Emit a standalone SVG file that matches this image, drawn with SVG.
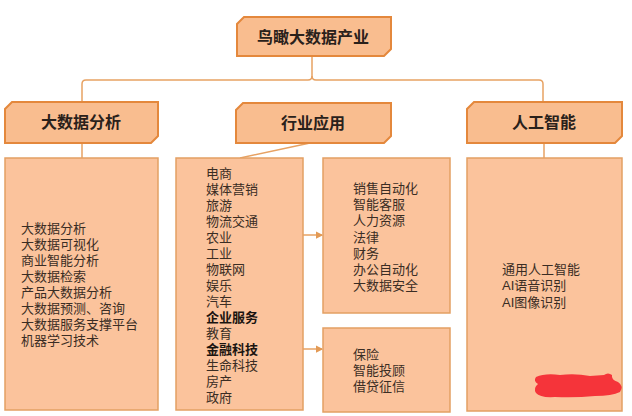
<svg xmlns="http://www.w3.org/2000/svg" width="632" height="416" viewBox="0 0 632 416">
<style>
.hdr{fill:#F9BD8F;stroke:#E4883C;stroke-width:2}
.box{fill:#FBC39C;stroke:#E3A063;stroke-width:1.5}
.ht{font-family:"Liberation Sans","Noto Sans CJK SC",sans-serif;font-size:16px;font-weight:bold;fill:#2a211b;text-anchor:middle;dominant-baseline:central}
.t{font-family:"Liberation Sans","Noto Sans CJK SC",sans-serif;font-size:13px;fill:#3a2d24;dominant-baseline:central}
.b{font-weight:bold;fill:#1a1410}
.c{fill:none;stroke:#E7A263;stroke-width:1.5}
</style>
<defs>
<marker id="arr" viewBox="0 0 6 6" refX="5" refY="3" markerWidth="5" markerHeight="5" orient="auto">
<path d="M0,0 L6,3 L0,6 Z" fill="#E39A55"/>
</marker>
</defs>
<rect width="632" height="416" fill="#ffffff"/>
<g id="connectors">
<path class="c" d="M312,56 V76 Q312,80 308,80 H86 Q82,80 82,84 V102"/>
<path class="c" d="M312,76 Q312,80 316,80 H539 Q543,80 543,84 V102"/>
<path class="c" d="M82,143 V158"/>
<path class="c" d="M310,143 L240,158"/>
<path class="c" d="M544,143 V158"/>
<path class="c" d="M268,318 H281 V235 H322" marker-end="url(#arr)"/>
<path class="c" d="M268,349 H322" marker-end="url(#arr)"/>
</g>
<g id="root">
<path class="hdr" d="M244,17 H391 V49 L384,56 H237 V24 Z"/>
<text class="ht" x="313" y="37">鸟瞰大数据产业</text>
</g>
<g id="n-analysis">
<path class="hdr" d="M12,102 H158 V136 L151,143 H5 V109 Z"/>
<text class="ht" x="81" y="122">大数据分析</text>
</g>
<g id="n-industry">
<path class="hdr" d="M243,103 H391 V136 L384,143 H236 V110 Z"/>
<text class="ht" x="313" y="123">行业应用</text>
</g>
<g id="n-ai">
<path class="hdr" d="M474,102 H622 V136 L615,143 H467 V109 Z"/>
<text class="ht" x="544" y="122">人工智能</text>
</g>
<g id="c-analysis">
<rect class="box" x="5" y="158" width="153" height="252"/>
<text class="t" x="21" y="228">大数据分析</text>
<text class="t" x="21" y="244">大数据可视化</text>
<text class="t" x="21" y="260">商业智能分析</text>
<text class="t" x="21" y="276">大数据检索</text>
<text class="t" x="21" y="292">产品大数据分析</text>
<text class="t" x="21" y="308">大数据预测、咨询</text>
<text class="t" x="21" y="324">大数据服务支撑平台</text>
<text class="t" x="21" y="340">机器学习技术</text>
</g>
<g id="c-industry">
<rect class="box" x="176" y="158" width="127" height="252"/>
<text class="t" x="206" y="173">电商</text>
<text class="t" x="206" y="189">媒体营销</text>
<text class="t" x="206" y="205">旅游</text>
<text class="t" x="206" y="221">物流交通</text>
<text class="t" x="206" y="237">农业</text>
<text class="t" x="206" y="253">工业</text>
<text class="t" x="206" y="269">物联网</text>
<text class="t" x="206" y="285">娱乐</text>
<text class="t" x="206" y="301">汽车</text>
<text class="t b" x="206" y="317">企业服务</text>
<text class="t" x="206" y="333">教育</text>
<text class="t b" x="206" y="349">金融科技</text>
<text class="t" x="206" y="365">生命科技</text>
<text class="t" x="206" y="381">房产</text>
<text class="t" x="206" y="397">政府</text>
</g>
<g id="c-enterprise">
<rect class="box" x="323" y="158" width="127" height="155"/>
<text class="t" x="353" y="188">销售自动化</text>
<text class="t" x="353" y="204">智能客服</text>
<text class="t" x="353" y="220">人力资源</text>
<text class="t" x="353" y="237">法律</text>
<text class="t" x="353" y="253">财务</text>
<text class="t" x="353" y="269">办公自动化</text>
<text class="t" x="353" y="285">大数据安全</text>
</g>
<g id="c-fintech">
<rect class="box" x="323" y="328" width="127" height="84"/>
<text class="t" x="353" y="354">保险</text>
<text class="t" x="353" y="370">智能投顾</text>
<text class="t" x="353" y="386">借贷征信</text>
</g>
<g id="c-ai">
<rect class="box" x="467" y="158" width="155" height="253"/>
<text class="t" x="502" y="269">通用人工智能</text>
<text class="t" x="502" y="285">AI语音识别</text>
<text class="t" x="502" y="302">AI图像识别</text>
</g>
<path d="M536,377 Q545,373 560,375 Q575,373 590,376 L604,375 Q608,372 612,375 Q611,380 618,382 Q624,386 620,392 Q612,396 595,396 Q575,398 555,397 Q540,398 536,393 Q533,388 538,384 Q533,381 536,377 Z" fill="#F5343A"/>
</svg>
